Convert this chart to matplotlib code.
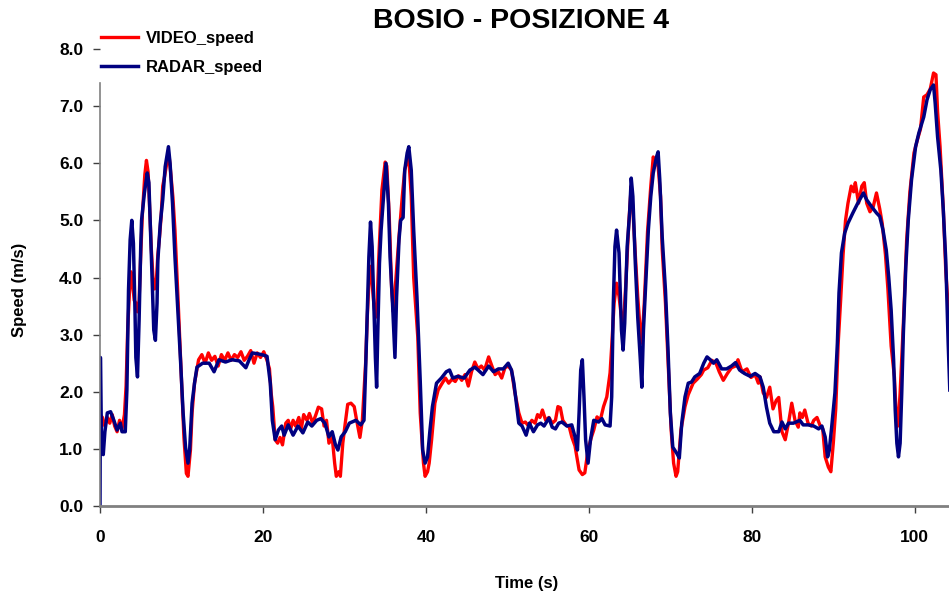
import matplotlib
matplotlib.use('Agg')
import matplotlib.pyplot as plt

plt.rcParams['font.family'] = ['Liberation Sans', 'DejaVu Sans']
plt.rcParams['font.weight'] = 'bold'

# RADAR_speed (tempo s, velocita m/s)
radar_t = [0.0, 0.05, 0.2, 0.4, 0.6, 0.9, 1.3, 1.7, 2.1, 2.5, 2.7, 3.1, 3.3, 3.5, 3.7, 3.9, 4.1, 4.3, 4.4, 4.6,
           4.8, 5.0, 5.1, 5.45, 5.8, 6.0, 6.2, 6.4, 6.6, 6.8, 7.0, 7.1, 7.4, 7.7, 8.0, 8.4, 8.6, 8.9, 9.2, 9.6,
           9.9, 10.2, 10.5, 10.8, 11.0, 11.3, 11.6, 11.9, 12.6, 13.4, 14.0, 14.6, 15.4, 16.2, 17.1, 17.9, 18.3, 18.7, 19.5, 20.1,
           20.5, 20.9, 21.15, 21.5, 21.9, 22.3, 22.6, 23.1, 23.7, 24.3, 24.9, 25.5, 26.0, 26.6, 27.1, 27.6, 28.1, 28.5, 28.9, 29.2,
           29.6, 30.1, 30.6, 31.4, 32.0, 32.4, 32.6, 32.8, 33.0, 33.2, 33.4, 33.6, 33.8, 33.95, 34.1, 34.3, 34.5, 34.8, 35.1, 35.4,
           35.6, 35.9, 36.2, 36.4, 36.7, 36.9, 37.2, 37.4, 37.7, 37.9, 38.2, 38.5, 38.9, 39.3, 39.6, 39.9, 40.2, 40.5, 40.8, 41.3,
           41.9, 42.5, 42.9, 43.3, 43.9, 44.7, 45.4, 46.0, 46.4, 47.0, 47.7, 48.3, 48.9, 49.5, 50.1, 50.5, 50.8, 51.1, 51.4, 51.8,
           52.3, 52.7, 53.2, 53.7, 54.1, 54.5, 55.1, 55.5, 55.9, 56.3, 56.7, 57.3, 57.9, 58.3, 58.6, 58.8, 59.0, 59.2, 59.4, 59.6,
           59.9, 60.2, 60.6, 61.2, 61.6, 62.0, 62.6, 62.8, 63.0, 63.2, 63.4, 63.7, 64.0, 64.2, 64.4, 64.7, 65.0, 65.2, 65.4, 65.7,
           66.0, 66.3, 66.5, 66.7, 67.0, 67.3, 67.6, 67.9, 68.3, 68.5, 68.7, 69.0, 69.4, 69.7, 70.0, 70.3, 70.8, 71.1, 71.4, 71.8,
           72.2, 72.6, 73.0, 73.6, 74.1, 74.5, 74.9, 75.3, 75.7, 76.3, 76.9, 77.5, 78.0, 78.5, 79.1, 79.8, 80.4, 81.0, 81.4, 81.8,
           82.2, 82.7, 83.3, 83.7, 84.1, 84.5, 85.1, 85.9, 86.3, 86.9, 87.6, 88.2, 88.6, 89.0, 89.3, 89.5, 89.8, 90.2, 90.5, 90.7,
           91.0, 91.4, 91.8, 92.4, 93.0, 93.7, 94.1, 94.7, 95.3, 95.7, 96.1, 96.5, 96.8, 97.1, 97.4, 97.6, 97.8, 98.0, 98.2, 98.4,
           98.6, 98.9, 99.2, 99.6, 100.1, 100.5, 101.1, 101.5, 101.9, 102.3, 102.5, 102.8, 103.2, 103.5, 103.8, 104.1, 104.3]
radar_v = [0.0, 2.6, 0.98, 0.9, 1.3, 1.63, 1.65, 1.5, 1.33, 1.45, 1.3, 1.3, 2.03, 3.78, 4.66, 5.0, 4.6, 3.38, 2.6, 2.26,
           3.26, 4.54, 5.0, 5.48, 5.83, 5.66, 4.83, 3.96, 3.08, 2.9, 3.55, 4.3, 4.95, 5.36, 5.94, 6.29, 6.0, 5.3, 4.36, 3.3,
           2.5, 1.63, 1.03, 0.75, 0.98, 1.8, 2.15, 2.43, 2.5, 2.5, 2.35, 2.56, 2.52, 2.56, 2.54, 2.42, 2.56, 2.68, 2.66, 2.64,
           2.62, 2.15, 1.5, 1.16, 1.33, 1.4, 1.24, 1.42, 1.24, 1.4, 1.28, 1.47, 1.4, 1.5, 1.53, 1.45, 1.21, 1.3, 1.07, 0.98,
           1.21, 1.3, 1.45, 1.5, 1.42, 1.5, 2.38, 3.38, 4.36, 4.97, 4.54, 3.55, 2.6, 2.08, 3.08, 4.25, 4.83, 5.42, 6.0, 5.3,
           4.36, 3.55, 2.6, 3.66, 4.66, 5.0, 5.05, 5.88, 6.18, 6.29, 5.88, 4.83, 3.66, 2.2, 0.98, 0.75, 0.86, 1.33, 1.74, 2.15,
           2.24, 2.35, 2.38, 2.24, 2.27, 2.24, 2.38, 2.43, 2.38, 2.3, 2.45, 2.35, 2.4, 2.4, 2.5, 2.38, 2.15, 1.8, 1.45, 1.4,
           1.24, 1.45, 1.3, 1.42, 1.45, 1.4, 1.54, 1.38, 1.35, 1.45, 1.47, 1.4, 1.42, 1.21, 0.98, 1.63, 2.38, 2.56, 1.91, 1.16,
           0.75, 1.16, 1.5, 1.47, 1.53, 1.42, 1.4, 1.91, 3.55, 4.54, 4.83, 4.43, 3.08, 2.73, 3.2, 4.54, 5.13, 5.74, 5.42, 4.25,
           3.3, 2.6, 2.08, 3.08, 3.96, 4.83, 5.42, 5.83, 6.11, 6.2, 5.72, 4.71, 3.78, 2.79, 1.63, 1.03, 0.92, 0.84, 1.45, 1.91,
           2.15, 2.17, 2.26, 2.32, 2.5, 2.61, 2.56, 2.5, 2.56, 2.4, 2.4, 2.45, 2.51, 2.38, 2.32, 2.27, 2.32, 2.26, 2.08, 1.73,
           1.45, 1.3, 1.3, 1.47, 1.35, 1.45, 1.45, 1.5, 1.42, 1.42, 1.4, 1.35, 1.4, 1.21, 0.86, 0.97, 1.38, 1.98, 2.85, 3.73,
           4.43, 4.78, 4.95, 5.13, 5.3, 5.48, 5.36, 5.24, 5.13, 5.07, 4.83, 4.48, 4.01, 3.43, 2.56, 1.68, 1.1, 0.86, 1.1, 1.98,
           3.03, 4.19, 5.0, 5.71, 6.29, 6.53, 6.81, 7.11, 7.29, 7.37, 7.06, 6.46, 5.88, 5.18, 4.31, 2.85, 2.03]

# VIDEO_speed
video_t = [0.0, 0.3, 0.6, 0.9, 1.2, 1.5, 1.8, 2.1, 2.4, 2.7, 3.0, 3.2, 3.4, 3.6, 3.8, 4.0, 4.2, 4.4, 4.6, 4.8,
           5.0, 5.2, 5.5, 5.7, 5.9, 6.1, 6.3, 6.5, 6.7, 6.9, 7.1, 7.3, 7.5, 7.7, 7.9, 8.2, 8.5, 8.7, 8.95, 9.2,
           9.6, 10.0, 10.3, 10.6, 10.8, 11.1, 11.3, 11.6, 12.1, 12.5, 12.9, 13.3, 13.7, 14.1, 14.5, 14.9, 15.3, 15.7, 16.1, 16.5,
           16.9, 17.3, 17.7, 18.1, 18.5, 18.9, 19.3, 19.7, 20.1, 20.5, 20.8, 21.0, 21.2, 21.5, 21.8, 22.1, 22.4, 22.8, 23.1, 23.4,
           23.7, 24.0, 24.4, 24.7, 25.0, 25.4, 25.7, 26.1, 26.5, 26.8, 27.2, 27.5, 27.8, 28.1, 28.5, 28.8, 29.0, 29.3, 29.5, 29.8,
           30.1, 30.4, 30.8, 31.2, 31.5, 31.9, 32.2, 32.6, 32.8, 33.1, 33.4, 33.6, 33.8, 34.0, 34.2, 34.6, 35.0, 35.2, 35.5, 35.8,
           36.0, 36.2, 36.7, 37.1, 37.4, 37.7, 37.9, 38.2, 38.5, 39.0, 39.3, 39.7, 39.9, 40.2, 40.4, 40.7, 41.1, 41.5, 42.0, 42.4,
           42.8, 43.2, 43.6, 44.0, 44.4, 44.8, 45.2, 45.6, 46.0, 46.4, 46.8, 47.2, 47.7, 48.1, 48.5, 48.9, 49.3, 49.7, 50.1, 50.5,
           50.9, 51.4, 51.8, 52.2, 52.6, 53.0, 53.4, 53.7, 54.0, 54.3, 54.7, 55.1, 55.5, 55.9, 56.2, 56.5, 56.8, 57.2, 57.6, 57.9,
           58.3, 58.8, 59.2, 59.5, 59.9, 60.3, 60.6, 61.0, 61.4, 61.8, 62.2, 62.6, 62.8, 63.1, 63.4, 63.7, 64.0, 64.2, 64.5, 64.9,
           65.2, 65.4, 65.7, 66.0, 66.3, 66.5, 66.8, 67.2, 67.6, 67.9, 68.2, 68.5, 68.8, 69.0, 69.4, 69.7, 70.1, 70.4, 70.7, 70.9,
           71.3, 71.8, 72.2, 72.8, 73.3, 73.8, 74.1, 74.6, 75.1, 75.6, 76.0, 76.5, 77.0, 77.5, 78.0, 78.3, 78.8, 79.4, 79.9, 80.4,
           80.8, 81.0, 81.4, 81.8, 82.2, 82.6, 83.0, 83.3, 83.7, 84.1, 84.5, 84.9, 85.3, 85.7, 85.9, 86.2, 86.5, 86.9, 87.3, 87.6,
           88.0, 88.4, 88.7, 89.0, 89.4, 89.7, 90.0, 90.3, 90.6, 90.9, 91.2, 91.5, 91.8, 92.2, 92.5, 92.7, 93.1, 93.5, 93.8, 94.1,
           94.5, 94.9, 95.3, 95.7, 96.0, 96.4, 96.7, 97.1, 97.5, 97.8, 98.0, 98.2, 98.6, 99.0, 99.4, 99.9, 100.3, 100.7, 101.1, 101.5,
           101.9, 102.3, 102.6, 102.8, 103.1, 103.5, 103.8, 104.0, 104.3]
video_v = [1.6, 1.55, 1.4, 1.55, 1.45, 1.6, 1.4, 1.3, 1.5, 1.35, 1.6, 2.1, 3.1, 3.7, 4.1, 3.9, 3.6, 3.55, 3.4, 3.6,
           4.4, 5.1, 5.8, 6.05, 5.85, 5.2, 4.5, 4.0, 3.8, 3.9, 4.4, 4.7, 5.06, 5.6, 5.75, 6.0, 6.1, 5.8, 5.4, 4.83,
           3.55, 2.2, 1.2, 0.57, 0.52, 0.98, 1.63, 2.15, 2.56, 2.65, 2.5, 2.68, 2.55, 2.62, 2.45, 2.65, 2.55, 2.68, 2.55, 2.65,
           2.6, 2.7, 2.55, 2.62, 2.72, 2.5, 2.68, 2.6, 2.7, 2.55, 2.4, 1.98, 1.74, 1.16, 1.1, 1.2, 1.07, 1.45, 1.5, 1.35,
           1.5, 1.4, 1.55, 1.35, 1.6, 1.5, 1.62, 1.45, 1.6, 1.73, 1.7, 1.4, 1.5, 1.1, 1.2, 0.75, 0.52, 0.6, 0.52, 1.1,
           1.45, 1.78, 1.8, 1.74, 1.5, 1.2, 1.5, 2.5, 3.3, 4.2, 3.9, 3.55, 3.3, 3.5, 4.3, 5.53, 6.02, 5.95, 5.07, 3.78,
           3.4, 3.75, 4.72, 5.42, 5.88, 6.05, 6.1, 5.42, 4.0, 2.96, 1.63, 0.75, 0.52, 0.6, 0.75, 1.16, 1.8, 2.03, 2.15, 2.24,
           2.15, 2.22, 2.18, 2.28, 2.2, 2.3, 2.1, 2.35, 2.52, 2.4, 2.45, 2.38, 2.61, 2.45, 2.3, 2.35, 2.24, 2.42, 2.45, 2.38,
           2.0, 1.63, 1.45, 1.47, 1.4, 1.5, 1.45, 1.6, 1.55, 1.68, 1.5, 1.55, 1.45, 1.5, 1.74, 1.72, 1.5, 1.42, 1.38, 1.21,
           1.05, 0.63, 0.55, 0.58, 0.98, 1.2, 1.33, 1.56, 1.5, 1.74, 1.91, 2.33, 2.79, 3.55, 3.9, 3.67, 3.3, 3.08, 3.8, 4.95,
           5.6, 5.2, 4.4, 3.66, 3.08, 2.85, 3.55, 4.8, 5.6, 6.11, 6.0, 5.95, 5.42, 4.5, 3.55, 2.6, 1.33, 0.75, 0.52, 0.6,
           1.33, 1.74, 1.95, 2.15, 2.22, 2.3, 2.38, 2.42, 2.55, 2.5, 2.35, 2.2, 2.32, 2.42, 2.45, 2.56, 2.35, 2.4, 2.25, 2.3,
           2.15, 2.26, 1.98, 1.9, 2.08, 1.7, 1.85, 1.9, 1.3, 1.16, 1.45, 1.8, 1.5, 1.38, 1.63, 1.55, 1.68, 1.45, 1.4, 1.5,
           1.55, 1.4, 1.35, 0.86, 0.68, 0.6, 1.1, 1.7, 2.85, 3.6, 4.4, 5.0, 5.3, 5.6, 5.5, 5.66, 5.3, 5.6, 5.66, 5.3,
           5.15, 5.24, 5.48, 5.2, 4.95, 4.4, 3.8, 2.8, 2.26, 1.38, 1.5, 1.98, 3.2, 4.65, 5.5, 6.18, 6.4, 6.6, 7.16, 7.2,
           7.3, 7.58, 7.55, 6.9, 6.3, 5.2, 4.13, 3.7, 2.73]

yticks = [0.0, 1.0, 2.0, 3.0, 4.0, 5.0, 6.0, 7.0, 8.0]
xticks = [0, 20, 40, 60, 80, 100]

fig = plt.figure(figsize=(9.49, 5.96), dpi=100)
ax = fig.add_axes([100 / 949, 90 / 596, 849 / 949, 457 / 596])

ax.plot(video_t, video_v, color='#FF0000', lw=2.4, label='VIDEO_speed', solid_joinstyle='round')
ax.plot(radar_t, radar_v, color='#000080', lw=2.5, label='RADAR_speed', solid_joinstyle='round')

ax.set_xlim(0, 104.2)
ax.set_ylim(0, 8)
ax.set_xticks(xticks)
ax.set_yticks(yticks)
ax.set_yticklabels(['%.1f' % v for v in yticks])

for s in ['top', 'right']:
    ax.spines[s].set_visible(False)
ax.spines['bottom'].set_color('#808080')
ax.spines['bottom'].set_linewidth(2)
ax.spines['left'].set_color('#808080')
ax.spines['left'].set_linewidth(1.2)
ax.spines['left'].set_bounds(0, 7.4)
ax.tick_params(axis='both', direction='out', length=5, width=1, color='#404040', labelsize=12.5)
ax.tick_params(axis='x', pad=12)
ax.tick_params(axis='y', pad=7)

ax.set_xlabel('Time (s)', fontsize=12, fontweight='bold')
ax.xaxis.set_label_coords(0.503, -0.153)
ax.set_ylabel('Speed (m/s)', fontsize=12, fontweight='bold')
ax.yaxis.set_label_coords(-0.086, 0.473)

fig.text(521 / 949, 1 - 21 / 596, 'BOSIO - POSIZIONE 4', ha='center', va='center',
         fontsize=20.5, fontweight='bold')

fig.legend(loc='upper left', bbox_to_anchor=(101 / 949, 1 - 31 / 596), frameon=False,
           fontsize=12, handlelength=2.2, handletextpad=0.5, labelspacing=0.85,
           borderpad=0, borderaxespad=0)

plt.savefig('out.png', dpi=100)
